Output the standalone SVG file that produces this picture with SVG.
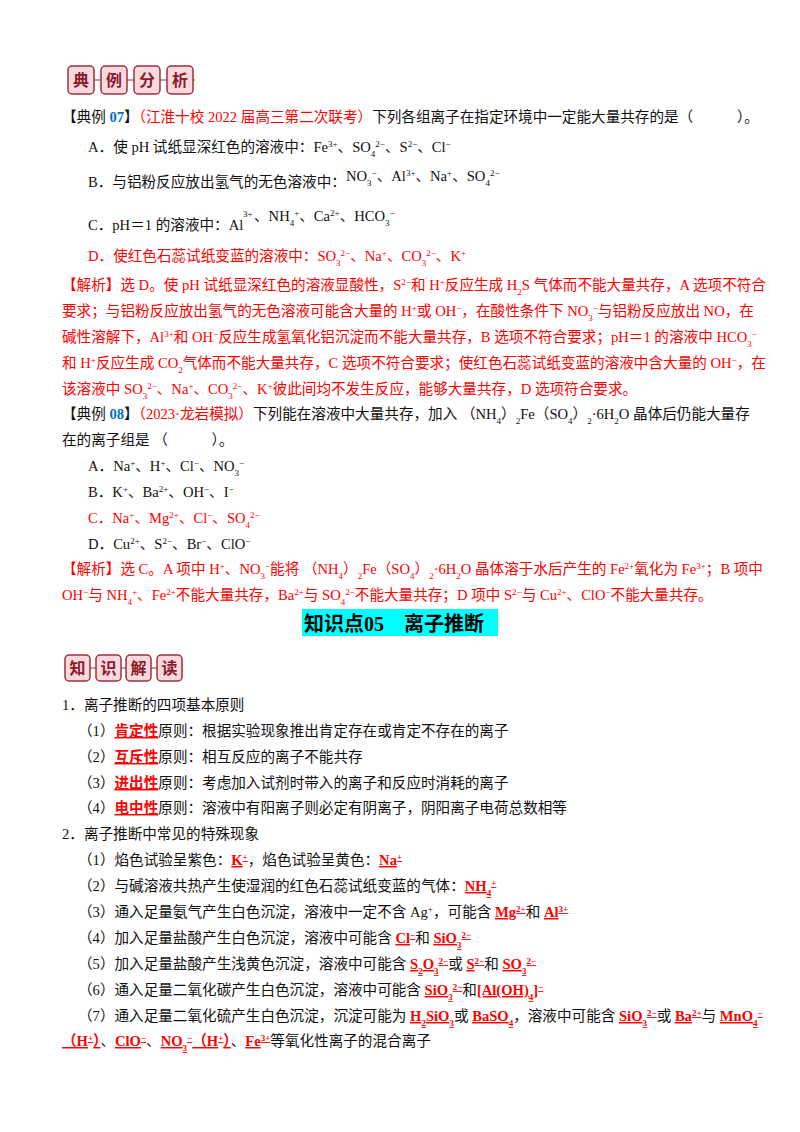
<svg xmlns="http://www.w3.org/2000/svg" width="800" height="1132" viewBox="0 0 800 1132">
<style>
text{font-family:"Liberation Serif","Noto Sans CJK SC",serif;font-size:14.6px;fill:#111}
.r{fill:#f00}
.r tspan{fill:#f00}
.bl{fill:#0070c0;font-weight:bold}
.u{font-weight:bold;text-decoration:underline;fill:#f00}
.s{font-size:9px;baseline-shift:super}
.d{font-size:9px;baseline-shift:sub}
.bx{fill:#f7d9de;stroke:#a0303c;stroke-width:1.5}
.bt{font-family:"Noto Sans CJK SC",sans-serif;font-weight:bold;fill:#8b1a2a;font-size:16px;text-anchor:middle}
</style>
<rect width="800" height="1132" fill="#fff"/>
<g id="badge1">
<line x1="70" y1="80" x2="195" y2="80" stroke="#a0303c" stroke-width="1.2"/>
<rect class="bx" x="68" y="66" width="26" height="28" rx="4"/><rect class="bx" x="101" y="66" width="26" height="28" rx="4"/><rect class="bx" x="134" y="66" width="26" height="28" rx="4"/><rect class="bx" x="167" y="66" width="26" height="28" rx="4"/>
<text class="bt" x="81" y="86">典</text><text class="bt" x="114" y="86">例</text><text class="bt" x="147" y="86">分</text><text class="bt" x="180" y="86">析</text>
</g>
<g id="ex07">
<text x="62" y="122">【典例 <tspan class="bl">07</tspan>】<tspan class="r">（江淮十校 2022 届高三第二次联考）</tspan>下列各组离子在指定环境中一定能大量共存的是（　　　）。</text>
<text x="88" y="152">A．使 pH 试纸显深红色的溶液中：Fe<tspan class="s">3+</tspan>、SO<tspan class="d">4</tspan><tspan class="s">2−</tspan>、S<tspan class="s">2−</tspan>、Cl<tspan class="s">−</tspan></text>
<text x="88" y="187">B．与铝粉反应放出氢气的无色溶液中：</text>
<text x="346" y="181">NO<tspan class="d">3</tspan><tspan class="s">−</tspan>、Al<tspan class="s">3+</tspan>、Na<tspan class="s">+</tspan>、SO<tspan class="d">4</tspan><tspan class="s">2−</tspan></text>
<text x="88" y="230">C．pH＝1 的溶液中：Al</text>
<text x="243" y="217" style="font-size:9px">3+</text>
<text x="254" y="221">、NH<tspan class="d">4</tspan><tspan class="s">+</tspan>、Ca<tspan class="s">2+</tspan>、HCO<tspan class="d">3</tspan><tspan class="s">−</tspan></text>
<text x="88" y="261" class="r">D．使红色石蕊试纸变蓝的溶液中：SO<tspan class="d">3</tspan><tspan class="s">2−</tspan>、Na<tspan class="s">+</tspan>、CO<tspan class="d">3</tspan><tspan class="s">2−</tspan>、K<tspan class="s">+</tspan></text>
<g class="r">
<text class="r" x="62" y="290">【解析】选 D。使 pH 试纸显深红色的溶液显酸性，S<tspan class="s">2−</tspan>和 H<tspan class="s">+</tspan>反应生成 H<tspan class="d">2</tspan>S 气体而不能大量共存，A 选项不符合</text>
<text class="r" x="62" y="316">要求；与铝粉反应放出氢气的无色溶液可能含大量的 H<tspan class="s">+</tspan>或 OH<tspan class="s">−</tspan>，在酸性条件下 NO<tspan class="d">3</tspan><tspan class="s">−</tspan>与铝粉反应放出 NO，在</text>
<text class="r" x="62" y="342">碱性溶解下，Al<tspan class="s">3+</tspan>和 OH<tspan class="s">−</tspan>反应生成氢氧化铝沉淀而不能大量共存，B 选项不符合要求；pH＝1 的溶液中 HCO<tspan class="d">3</tspan><tspan class="s">−</tspan></text>
<text class="r" x="62" y="368">和 H<tspan class="s">+</tspan>反应生成 CO<tspan class="d">2</tspan>气体而不能大量共存，C 选项不符合要求；使红色石蕊试纸变蓝的溶液中含大量的 OH<tspan class="s">−</tspan>，在</text>
<text class="r" x="62" y="394">该溶液中 SO<tspan class="d">3</tspan><tspan class="s">2−</tspan>、Na<tspan class="s">+</tspan>、CO<tspan class="d">3</tspan><tspan class="s">2−</tspan>、K<tspan class="s">+</tspan>彼此间均不发生反应，能够大量共存，D 选项符合要求。</text>
</g>
</g>
<g id="ex08">
<text x="62" y="419">【典例 <tspan class="bl">08</tspan>】<tspan class="r">（2023·龙岩模拟）</tspan>下列能在溶液中大量共存，加入 （NH<tspan class="d">4</tspan>）<tspan class="d">2</tspan>Fe（SO<tspan class="d">4</tspan>）<tspan class="d">2</tspan>·6H<tspan class="d">2</tspan>O  晶体后仍能大量存</text>
<text x="62" y="445">在的离子组是 （　　　）。</text>
<text x="88" y="471">A．Na<tspan class="s">+</tspan>、H<tspan class="s">+</tspan>、Cl<tspan class="s">−</tspan>、NO<tspan class="d">3</tspan><tspan class="s">−</tspan></text>
<text x="88" y="497">B．K<tspan class="s">+</tspan>、Ba<tspan class="s">2+</tspan>、OH<tspan class="s">−</tspan>、I<tspan class="s">−</tspan></text>
<text x="88" y="523" class="r">C．Na<tspan class="s">+</tspan>、Mg<tspan class="s">2+</tspan>、Cl<tspan class="s">−</tspan>、SO<tspan class="d">4</tspan><tspan class="s">2−</tspan></text>
<text x="88" y="549">D．Cu<tspan class="s">2+</tspan>、S<tspan class="s">2−</tspan>、Br<tspan class="s">−</tspan>、ClO<tspan class="s">−</tspan></text>
<text class="r" x="62" y="574">【解析】选 C。A 项中 H<tspan class="s">+</tspan>、NO<tspan class="d">3</tspan><tspan class="s">−</tspan>能将 （NH<tspan class="d">4</tspan>）<tspan class="d">2</tspan>Fe（SO<tspan class="d">4</tspan>）<tspan class="d">2</tspan>·6H<tspan class="d">2</tspan>O 晶体溶于水后产生的 Fe<tspan class="s">2+</tspan>氧化为 Fe<tspan class="s">3+</tspan>；B 项中</text>
<text class="r" x="62" y="600">OH<tspan class="s">−</tspan>与 NH<tspan class="d">4</tspan><tspan class="s">+</tspan>、Fe<tspan class="s">2+</tspan>不能大量共存，Ba<tspan class="s">2+</tspan>与 SO<tspan class="d">4</tspan><tspan class="s">2−</tspan>不能大量共存；D 项中 S<tspan class="s">2−</tspan>与 Cu<tspan class="s">2+</tspan>、ClO<tspan class="s">−</tspan>不能大量共存。</text>
</g>
<g id="title">
<rect x="302" y="609" width="196" height="27" fill="#00ffff"/>
<text x="304" y="631" style="font-size:20px;font-weight:bold;fill:#000">知识点05　离子推断</text>
</g>
<g id="badge2">
<line x1="66" y1="668" x2="182" y2="668" stroke="#a0303c" stroke-width="1.2"/>
<rect class="bx" x="65" y="655" width="25" height="26" rx="4"/><rect class="bx" x="96" y="655" width="25" height="26" rx="4"/><rect class="bx" x="126" y="655" width="25" height="26" rx="4"/><rect class="bx" x="157" y="655" width="25" height="26" rx="4"/>
<text class="bt" x="77.5" y="674">知</text><text class="bt" x="108.5" y="674">识</text><text class="bt" x="138.5" y="674">解</text><text class="bt" x="169.5" y="674">读</text>
</g>
<g id="body">
<text x="62" y="710">1．离子推断的四项基本原则</text>
<text x="78" y="736">（1）<tspan class="u">肯定性</tspan>原则：根据实验现象推出肯定存在或肯定不存在的离子</text>
<text x="78" y="762">（2）<tspan class="u">互斥性</tspan>原则：相互反应的离子不能共存</text>
<text x="78" y="788">（3）<tspan class="u">进出性</tspan>原则：考虑加入试剂时带入的离子和反应时消耗的离子</text>
<text x="78" y="813">（4）<tspan class="u">电中性</tspan>原则：溶液中有阳离子则必定有阴离子，阴阳离子电荷总数相等</text>
<text x="62" y="839">2．离子推断中常见的特殊现象</text>
<text x="78" y="865">（1）焰色试验呈紫色：<tspan class="u">K<tspan class="s">+</tspan></tspan>，焰色试验呈黄色：<tspan class="u">Na<tspan class="s">+</tspan></tspan></text>
<text x="78" y="891">（2）与碱溶液共热产生使湿润的红色石蕊试纸变蓝的气体：<tspan class="u">NH<tspan class="d">4</tspan><tspan class="s">+</tspan></tspan></text>
<text x="78" y="917">（3）通入足量氨气产生白色沉淀，溶液中一定不含 Ag<tspan class="s">+</tspan>，可能含 <tspan class="u">Mg<tspan class="s">2+</tspan></tspan>和 <tspan class="u">Al<tspan class="s">3+</tspan></tspan></text>
<text x="78" y="943">（4）加入足量盐酸产生白色沉淀，溶液中可能含 <tspan class="u">Cl<tspan class="s">−</tspan></tspan>和 <tspan class="u">SiO<tspan class="d">3</tspan><tspan class="s">2−</tspan></tspan></text>
<text x="78" y="969">（5）加入足量盐酸产生浅黄色沉淀，溶液中可能含 <tspan class="u">S<tspan class="d">2</tspan>O<tspan class="d">3</tspan><tspan class="s">2−</tspan></tspan>或 <tspan class="u">S<tspan class="s">2−</tspan></tspan>和 <tspan class="u">SO<tspan class="d">3</tspan><tspan class="s">2−</tspan></tspan></text>
<text x="78" y="995">（6）通入足量二氧化碳产生白色沉淀，溶液中可能含 <tspan class="u">SiO<tspan class="d">3</tspan><tspan class="s">2−</tspan></tspan>和<tspan class="u">[Al(OH)<tspan class="d">4</tspan>]<tspan class="s">−</tspan></tspan></text>
<text x="78" y="1021">（7）通入足量二氧化硫产生白色沉淀，沉淀可能为 <tspan class="u">H<tspan class="d">2</tspan>SiO<tspan class="d">3</tspan></tspan>或 <tspan class="u">BaSO<tspan class="d">4</tspan></tspan>，溶液中可能含 <tspan class="u">SiO<tspan class="d">3</tspan><tspan class="s">2−</tspan></tspan>或 <tspan class="u">Ba<tspan class="s">2+</tspan></tspan>与 <tspan class="u">MnO<tspan class="d">4</tspan><tspan class="s">−</tspan></tspan></text>
<text x="62" y="1046"><tspan class="u">（H<tspan class="s">+</tspan>）</tspan>、<tspan class="u">ClO<tspan class="s">−</tspan></tspan>、<tspan class="u">NO<tspan class="d">3</tspan><tspan class="s">−</tspan>（H<tspan class="s">+</tspan>）</tspan>、<tspan class="u">Fe<tspan class="s">3+</tspan></tspan>等氧化性离子的混合离子</text>
</g>
</svg>
